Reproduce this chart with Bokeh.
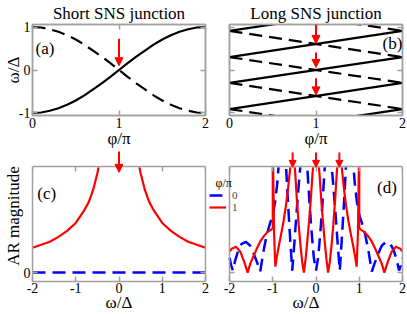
from bokeh.plotting import figure
from bokeh.models import (Range1d, LinearAxis, FixedTicker, Label, Arrow, NormalHead,
                          Legend, LegendItem, ColumnDataSource, BoxAnnotation)
from bokeh.core.properties import value
from bokeh.layouts import column, row
from bokeh.embed import file_html
from bokeh.resources import INLINE

# ---------------- data ----------------
# (a) short SNS junction: Andreev levels vs phi/pi
phi_short = [0.0, 0.1, 0.2, 0.3, 0.4, 0.5, 0.6, 0.7, 0.8, 0.9, 1.0,
             1.1, 1.2, 1.3, 1.4, 1.5, 1.6, 1.7, 1.8, 1.9, 2.0]
short_solid = [-1.00, -0.99, -0.95, -0.89, -0.81, -0.71, -0.59, -0.45, -0.31, -0.16, 0.00,
               0.16, 0.31, 0.45, 0.59, 0.71, 0.81, 0.89, 0.95, 0.99, 1.00]
short_dashed = [1.00, 0.99, 0.95, 0.89, 0.81, 0.71, 0.59, 0.45, 0.31, 0.16, 0.00,
                -0.16, -0.31, -0.45, -0.59, -0.71, -0.81, -0.89, -0.95, -0.99, -1.00]

# (b) long SNS junction: straight levels, value at phi/pi = 0 and at phi/pi = 2
phi_long = [0.0, 2.0]
long_solid_at0 = [-1.52, -0.91, -0.30, 0.30, 0.91]
long_solid_at2 = [-0.91, -0.30, 0.30, 0.91, 1.52]
long_dashed_at0 = [1.52, 0.91, 0.30, -0.30, -0.91]
long_dashed_at2 = [0.91, 0.30, -0.30, -0.91, -1.52]

# red arrows marking zero-energy / resonant crossings
arrow_a_x, arrow_a_from, arrow_a_to = [1.0], [0.73], [0.10]
arrow_b_x, arrow_b_from, arrow_b_to = [1.0, 1.0, 1.0], [1.06, 0.41, -0.19], [0.62, 0.06, -0.58]
arrow_c_x, arrow_c_from, arrow_c_to = [0.0], [1.22], [1.01]
arrow_d_x, arrow_d_from, arrow_d_to = [-0.54, 0.0, 0.54], [1.21, 1.21, 1.21], [1.06, 1.06, 1.06]

# (c) short junction AR magnitude vs omega (off-scale values shown as 1.2)
omega_c_pi = [-2.0, -1.8, -1.6, -1.4, -1.2, -1.0, -0.8, -0.7, -0.6, -0.5, -0.45, -0.4,
              0.4, 0.45, 0.5, 0.6, 0.7, 0.8, 1.0, 1.2, 1.4, 1.6, 1.8, 2.0]
ar_short_pi = [0.25, 0.28, 0.31, 0.36, 0.42, 0.50, 0.63, 0.71, 0.83, 1.00, 1.11, 1.20,
               1.20, 1.11, 1.00, 0.83, 0.71, 0.63, 0.50, 0.42, 0.36, 0.31, 0.28, 0.25]
omega_c_0 = [-2.0, 2.0]
ar_short_0 = [0.0, 0.0]

# (d) long junction AR magnitude vs omega (off-scale values shown as 1.2)
omega_d_pi = [-2.00, -1.95, -1.85, -1.75, -1.67, -1.58, -1.52, -1.44, -1.36, -1.28, -1.20,
              -1.12, -1.04, -1.00, -1.00, -0.995, -0.97, -0.94, -0.90, -0.85, -0.80, -0.75,
              -0.70, -0.65, -0.60, -0.57, -0.54, -0.51, -0.48, -0.44, -0.40, -0.36, -0.32,
              -0.28, -0.24, -0.20, -0.16, -0.12, -0.08, -0.04, 0.00,
              0.04, 0.08, 0.12, 0.16, 0.20, 0.24, 0.28, 0.32, 0.36, 0.40, 0.44, 0.48, 0.51,
              0.54, 0.57, 0.60, 0.65, 0.70, 0.75, 0.80, 0.85, 0.90, 0.94, 0.97, 0.995, 1.00,
              1.00, 1.04, 1.12, 1.20, 1.28, 1.36, 1.44, 1.52, 1.58, 1.67, 1.75, 1.85, 1.95, 2.00]
ar_long_pi = [0.21, 0.24, 0.26, 0.21, 0.12, 0.00, 0.09, 0.17, 0.25, 0.32, 0.37,
              0.41, 0.43, 0.45, 1.20, 1.20, 0.40, 0.06, 0.17, 0.29, 0.40, 0.52,
              0.66, 0.83, 1.04, 1.20, 1.20, 1.20, 1.00, 0.72, 0.48, 0.28, 0.11,
              0.00, 0.14, 0.32, 0.52, 0.74, 1.00, 1.20, 1.20,
              1.20, 1.00, 0.74, 0.52, 0.32, 0.14, 0.00, 0.11, 0.28, 0.48, 0.72, 1.00, 1.20,
              1.20, 1.20, 1.04, 0.83, 0.66, 0.52, 0.40, 0.29, 0.17, 0.06, 0.40, 1.20, 1.20,
              0.45, 0.43, 0.41, 0.37, 0.32, 0.25, 0.17, 0.09, 0.00, 0.12, 0.21, 0.26, 0.24, 0.21]
omega_d_0 = [-2.00, -1.96, -1.92, -1.87, -1.80, -1.72, -1.62, -1.52, -1.44, -1.36, -1.29,
             -1.22, -1.14, -1.06, -1.00, -0.95, -0.90, -0.86, -0.82, -0.77, -0.72, -0.69,
             -0.65, -0.60, -0.55, -0.50, -0.45, -0.40, -0.36, -0.32, -0.28, -0.24, -0.20,
             -0.15, -0.10, -0.05, 0.00,
             0.05, 0.10, 0.15, 0.20, 0.24, 0.28, 0.32, 0.36, 0.40, 0.45, 0.50, 0.55, 0.60,
             0.65, 0.69, 0.72, 0.77, 0.82, 0.86, 0.90, 0.95, 1.00, 1.06, 1.14, 1.22, 1.29,
             1.36, 1.44, 1.52, 1.62, 1.72, 1.80, 1.87, 1.92, 1.96, 2.00]
ar_long_0 = [0.15, 0.07, 0.02, 0.12, 0.22, 0.29, 0.31, 0.27, 0.19, 0.10, 0.01,
             0.20, 0.38, 0.50, 0.58, 0.70, 0.88, 1.10, 1.20, 1.20, 1.20, 1.05,
             0.72, 0.36, 0.02, 0.30, 0.60, 0.88, 1.08, 1.20, 1.20, 1.20, 1.05,
             0.70, 0.40, 0.15, 0.02,
             0.15, 0.40, 0.70, 1.05, 1.20, 1.20, 1.20, 1.08, 0.88, 0.60, 0.30, 0.02, 0.36,
             0.72, 1.05, 1.20, 1.20, 1.20, 1.10, 0.88, 0.70, 0.58, 0.50, 0.38, 0.20, 0.01,
             0.10, 0.19, 0.27, 0.31, 0.29, 0.22, 0.12, 0.02, 0.07, 0.15]

# axis extents (panel c/d data box; the plotting area above it holds the arrow tails)
AR_MIN, AR_MAX, AR_TOP = -0.09, 1.07, 1.23
OMEGA_MIN, OMEGA_MAX = -2.0, 2.0

# ---------------- styling ----------------
FONT = "Liberation Serif, Times New Roman, serif"
GRAY = "#a0a0a0"
RED = "#ff0000"
BLUE = "#0000ff"
DASH = "13 7"


def make_fig(xr, yr, w, h, borders, title=None, outline=True):
    left, top, right, bottom = borders
    p = figure(width=w, height=h, x_range=Range1d(*xr), y_range=Range1d(*yr),
               output_backend="svg", toolbar_location=None, tools="", title=title,
               min_border_left=left, min_border_right=right,
               min_border_top=top, min_border_bottom=bottom,
               background_fill_color=None, border_fill_color=None,
               outline_line_color=GRAY if outline else None, outline_line_width=1.5)
    p.xgrid.visible = False
    p.ygrid.visible = False
    if title is not None:
        p.title.align = "center"
        p.title.text_font = FONT
        p.title.text_font_size = "17px"
        p.title.text_font_style = "normal"
        p.title.text_color = "black"
        p.title.standoff = 3
    return p


def style_axis(ax, ticks, labels, label_text=None, standoff=0, tick_standoff=2):
    ax.ticker = FixedTicker(ticks=ticks)
    ax.major_tick_in = 5
    ax.major_tick_out = 0
    ax.minor_tick_in = 0
    ax.minor_tick_out = 0
    ax.axis_line_color = GRAY
    ax.axis_line_width = 1.5
    ax.major_tick_line_color = GRAY
    ax.major_tick_line_width = 1.5
    ax.major_label_text_font = FONT
    ax.major_label_text_color = "black"
    if labels:
        ax.major_label_text_font_size = "14px"
        ax.major_label_standoff = tick_standoff
        ax.major_label_overrides = {t: ("%g" % t) for t in ticks}
    else:
        ax.major_label_text_font_size = "0px"
        ax.major_label_standoff = 0
        ax.major_label_overrides = {t: "" for t in ticks}
    if label_text is not None:
        ax.axis_label = label_text
        ax.axis_label_text_font = FONT
        ax.axis_label_text_font_size = "17px"
        ax.axis_label_text_font_style = "normal"
        ax.axis_label_text_color = "black"
        ax.axis_label_standoff = standoff
    return ax


def add_arrows(p, xs, y0, y1, size):
    src = ColumnDataSource(dict(x=xs, y0=y0, y1=y1))
    p.add_layout(Arrow(end=NormalHead(size=size, fill_color=RED, line_color=RED, line_width=1),
                       x_start="x", y_start="y0", x_end="x", y_end="y1", source=src,
                       line_color=RED, line_width=2))


def add_cover(p):
    # blank strip above the data box, so that off-scale curves stop at its top edge
    p.add_layout(BoxAnnotation(bottom=AR_MAX, top=AR_TOP + 1.0, left=-10, right=10,
                               fill_color="white", fill_alpha=1.0,
                               line_color="white", line_width=3, level="glyph"))


def panel_label(p, x, y, text):
    p.add_layout(Label(x=x, y=y, text=text, text_font=FONT, text_font_size="17px",
                       text_baseline="middle", text_align="left", text_color="black"))


# ---------------- (a) ----------------
pa = make_fig((0, 2), (-1.06, 1.06), 209, 150, (32, 23, 4, 32), title="Short SNS junction")
style_axis(pa.xaxis[0], [0, 1, 2], True, "\u03c6/\u03c0", -2)
style_axis(pa.yaxis[0], [-1, 0, 1], True, "\u03c9/\u0394", -7)
pa.add_layout(style_axis(LinearAxis(), [0, 1, 2], False), "above")
pa.add_layout(style_axis(LinearAxis(), [-1, 0, 1], False), "right")
pa.line(phi_short, short_solid, line_color="black", line_width=2.2)
pa.line(phi_short, short_dashed, line_color="black", line_width=2.2, line_dash=DASH)
add_arrows(pa, arrow_a_x, arrow_a_from, arrow_a_to, 8)
panel_label(pa, 0.035, 0.49, "(a)")

# ---------------- (b) ----------------
pb = make_fig((0, 2), (-1.06, 1.06), 198, 150, (20, 23, 5, 32), title="Long SNS junction")
style_axis(pb.xaxis[0], [0, 1, 2], True, "\u03c6/\u03c0", -2)
style_axis(pb.yaxis[0], [-1, 0, 1], False)
pb.add_layout(style_axis(LinearAxis(), [0, 1, 2], False), "above")
pb.add_layout(style_axis(LinearAxis(), [-1, 0, 1], False), "right")
pb.multi_line([phi_long] * len(long_solid_at0),
              [[a, b] for a, b in zip(long_solid_at0, long_solid_at2)],
              line_color="black", line_width=2.2)
pb.multi_line([phi_long] * len(long_dashed_at0),
              [[a, b] for a, b in zip(long_dashed_at0, long_dashed_at2)],
              line_color="black", line_width=2.2, line_dash=DASH)
add_arrows(pb, arrow_b_x, arrow_b_from, arrow_b_to, 8)
panel_label(pb, 1.77, 0.61, "(b)")

# ---------------- (c) ----------------
pc = make_fig((OMEGA_MIN, OMEGA_MAX), (AR_MIN, AR_TOP), 209, 164, (32, 0, 4, 32), outline=False)
style_axis(pc.xaxis[0], [-2, -1, 0, 1, 2], True, "\u03c9/\u0394", -3, 1)
style_axis(pc.yaxis[0], [0], True, "AR magnitude", -2)
pc.yaxis[0].bounds = (AR_MIN, AR_MAX)
pc.add_layout(style_axis(LinearAxis(fixed_location=AR_MAX), [-2, -1, 0, 1, 2], False), "above")
pc.add_layout(style_axis(LinearAxis(bounds=(AR_MIN, AR_MAX)), [0], False), "right")
pc.line(omega_c_pi, ar_short_pi, line_color=RED, line_width=2.2)
pc.line(omega_c_0, ar_short_0, line_color=BLUE, line_width=2.5, line_dash=DASH)
add_cover(pc)
add_arrows(pc, arrow_c_x, arrow_c_from, arrow_c_to, 8)
panel_label(pc, -1.89, 0.80, "(c)")

# ---------------- (d) ----------------
pd = make_fig((OMEGA_MIN - 20 / 43.25, OMEGA_MAX), (AR_MIN, AR_TOP), 198, 164, (0, 0, 5, 32),
              outline=False)
style_axis(pd.xaxis[0], [-2, -1, 0, 1, 2], True, "\u03c9/\u0394", -3, 1)
pd.xaxis[0].bounds = (OMEGA_MIN, OMEGA_MAX)
style_axis(pd.yaxis[0], [0], False)
pd.yaxis[0].bounds = (AR_MIN, AR_MAX)
pd.yaxis[0].fixed_location = OMEGA_MIN
pd.add_layout(style_axis(LinearAxis(fixed_location=AR_MAX, bounds=(OMEGA_MIN, OMEGA_MAX)),
                         [-2, -1, 0, 1, 2], False), "above")
pd.add_layout(style_axis(LinearAxis(bounds=(AR_MIN, AR_MAX)), [0], False), "right")
r0 = pd.line(omega_d_0, ar_long_0, line_color=BLUE, line_width=2.5, line_dash=DASH)
r1 = pd.line(omega_d_pi, ar_long_pi, line_color=RED, line_width=2.2)
add_cover(pd)
add_arrows(pd, arrow_d_x, arrow_d_from, arrow_d_to, 7)
panel_label(pd, 1.41, 0.86, "(d)")

for rend, lab, loc in ((r0, "0", (0, 80)), (r1, "1", (0, 68))):
    pd.add_layout(Legend(items=[LegendItem(label=value(lab), renderers=[rend])],
                         location=loc, orientation="vertical",
                         label_text_font=FONT, label_text_font_size="11px",
                         glyph_width=17, glyph_height=12, label_height=12,
                         label_standoff=6, padding=0, margin=0, spacing=0,
                         border_line_color=None, background_fill_color=None,
                         background_fill_alpha=0))
pd.add_layout(Label(x=-2.324, y=0.905, text="\u03c6/\u03c0", text_font=FONT,
                    text_font_size="12px", text_baseline="middle", text_align="left",
                    text_color="black"))

root = column(row(pa, pb), row(pc, pd))

with open("out.html", "w") as f:
    f.write(file_html(root, INLINE))
